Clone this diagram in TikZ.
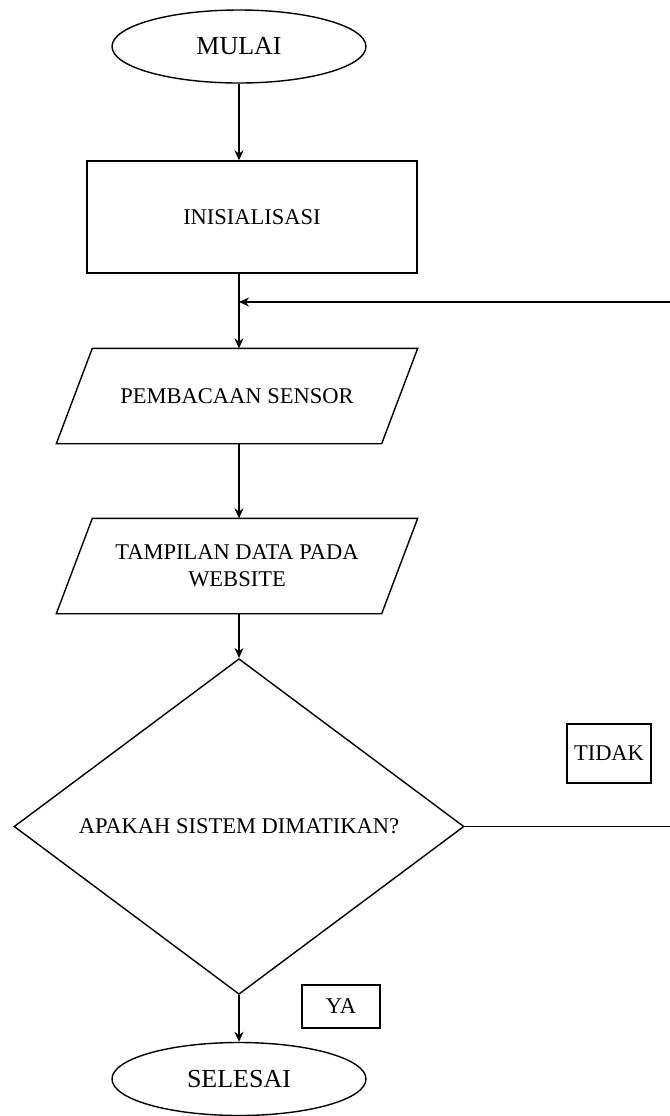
\documentclass[tikz,border=0pt]{standalone}
\usepackage{fontspec}
\setmainfont{Liberation Serif}
\usetikzlibrary{arrows.meta,positioning,shapes.geometric}

\begin{document}
\begin{tikzpicture}[x=0.5pt,y=-0.5pt,line width=0.7pt,
  >={Stealth[length=5pt,width=4.5pt]},
  terminal/.style={ellipse,draw,minimum width=127pt,minimum height=36.5pt,inner sep=0pt,font=\fontsize{13}{15}\selectfont},
  process/.style={rectangle,draw,minimum width=165pt,minimum height=56pt,inner sep=0pt,font=\fontsize{11.25}{13.5}\selectfont},
  io/.style={rectangle,minimum width=180pt,minimum height=47pt,inner sep=0pt,align=center,font=\fontsize{11.25}{13.5}\selectfont},
  decision/.style={diamond,draw,minimum width=225pt,minimum height=141.5pt,inner sep=0pt,font=\fontsize{11.25}{13.5}\selectfont},
  tag/.style={rectangle,draw,inner sep=0pt,font=\fontsize{11.25}{13.5}\selectfont}]
  \useasboundingbox (0,0) rectangle (670,1116);

  \node[terminal] (mulai) at (239,46.5) {MULAI};
  \node[process] (init) at (252,217) {INISIALISASI};
  \coordinate (join) at (239,302);
  \node[io] (baca) at (237,396) {PEMBACAAN SENSOR};
  \node[io] (web) at (237,566) {TAMPILAN DATA PADA\\WEBSITE};
  \node[decision] (cek) at (239,826.5) {APAKAH SISTEM DIMATIKAN?};
  \node[terminal] (selesai) at (239,1079) {SELESAI};

  \node[tag,minimum width=42pt,minimum height=29.5pt] (tidak) at (609,753.5) {TIDAK};
  \node[tag,minimum width=39pt,minimum height=21.5pt] (ya) at (341,1006.5) {YA};

  \coordinate (kananatas) at (670,302);
  \coordinate (kananbawah) at (670,826.5);

  % jajaran genjang input/output
  \foreach \n in {baca,web}
    \draw ([xshift=18pt]\n.north west) -- (\n.north east)
      -- ([xshift=-18pt]\n.south east) -- (\n.south west) -- cycle;

  \draw[->] (mulai.south) -- (mulai.south |- init.north);
  \draw (join |- init.south) -- (join);
  \draw[->] (kananatas) -- (join);
  \draw[->] (join) -- (join |- baca.north);
  \draw[->] (join |- baca.south) -- (join |- web.north);
  \draw[->] (join |- web.south) -- (cek.north);
  \draw (cek.east) -- (kananbawah);
  \draw[->] (cek.south) -- (selesai.north);
\end{tikzpicture}
\end{document}
